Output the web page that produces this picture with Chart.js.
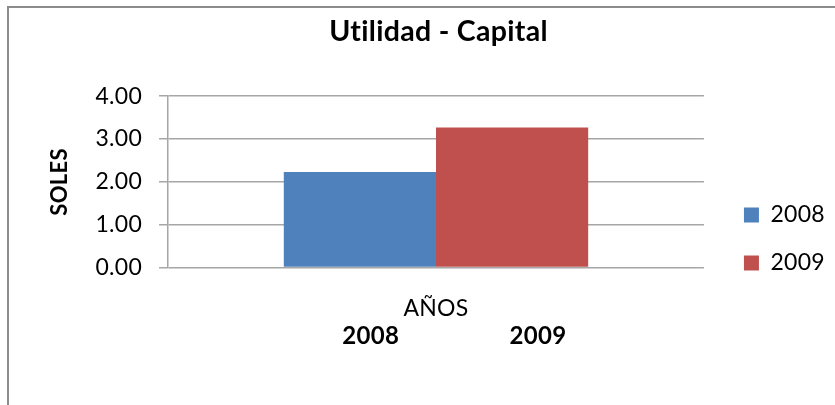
<!DOCTYPE html>
<html>
<head>
<meta charset="utf-8">
<script src="https://cdn.jsdelivr.net/npm/chart.js@4/dist/chart.umd.min.js"></script>
<style>
  html, body { margin: 0; padding: 0; background: #fff; overflow: hidden; }
  #wrap { position: absolute; left: 0; top: 0; width: 835px; height: 405px; }
  #frame { position: absolute; left: 7px; top: 6px; width: 900px; height: 500px;
           border-left: 2px solid #8c8c8c; border-top: 2px solid #8c8c8c; }
  canvas { position: absolute; left: 0; top: 0; }
</style>
</head>
<body>
<div id="wrap">
  <div id="frame"></div>
  <canvas id="chart" width="835" height="405"></canvas>
</div>
<script>
// ---- DATA ----
const categories = ['AÑOS'];
const seriesNames = ['2008', '2009'];
const values2008 = [2.23];
const values2009 = [3.27];
const yTicks = [0, 1, 2, 3, 4];
const chartTitle = 'Utilidad - Capital';
const yTitle = 'SOLES';
const xTitle = '      2008                  2009';

const FONT = 'Lato, "Open Sans", sans-serif';

// no ligatures (Lato joins "ti"), like the original font
const spacing = {
  id: 'spacing',
  beforeLayout: c => { c.ctx.letterSpacing = '0.3px'; },
  beforeDraw: c => { c.ctx.letterSpacing = '0.3px'; }
};

const ctx = document.getElementById('chart');
new Chart(ctx, {
  type: 'bar',
  data: {
    labels: categories,
    datasets: [
      { label: seriesNames[0], data: values2008, backgroundColor: '#4f81bd' },
      { label: seriesNames[1], data: values2009, backgroundColor: '#c0504d' }
    ]
  },
  options: {
    responsive: false,
    animation: false,
    layout: { padding: { left: 42, right: 0, top: 8, bottom: 54 } },
    datasets: { bar: { barPercentage: 1, categoryPercentage: 0.568, borderWidth: 0 } },
    plugins: {
      title: {
        display: true, text: chartTitle, color: '#000',
        font: { family: FONT, size: 28.5, weight: 'bold' },
        padding: { top: 7, bottom: 47 }
      },
      legend: {
        position: 'right',
        title: { display: true, text: ' ', font: { size: 10 }, padding: { top: 107, bottom: 0 } },
        labels: {
          color: '#000', boxWidth: 15, boxHeight: 15, padding: 25,
          font: { family: FONT, size: 23 }
        }
      },
      tooltip: { enabled: false }
    },
    scales: {
      x: {
        grid: { display: false },
        border: { display: false },
        ticks: { color: '#000', font: { family: FONT, size: 23 }, padding: 19 },
        title: {
          display: true, text: xTitle, color: '#000',
          font: { family: FONT, size: 24, weight: 'bold' }, padding: { top: -19, bottom: 0 }
        }
      },
      y: {
        min: yTicks[0], max: yTicks[yTicks.length - 1],
        afterBuildTicks: axis => { axis.ticks = yTicks.map(v => ({ value: v })); },
        grid: { color: '#a6a6a6', lineWidth: 1.5, tickLength: 9 },
        border: { color: '#a6a6a6', width: 1.5 },
        ticks: {
          color: '#000', font: { family: FONT, size: 23 }, padding: 17,
          callback: v => v.toFixed(2)
        },
        title: {
          display: true, text: yTitle, color: '#000',
          font: { family: FONT, size: 22, weight: 'bold' }, padding: { top: 5, bottom: 5 }
        }
      },
      // empty spacer between plot and legend
      gap: {
        type: 'linear', position: 'right', display: true,
        grid: { display: false }, border: { display: false },
        ticks: { display: false },
        afterFit: s => { s.width = 15; }
      }
    }
  },
  plugins: [spacing]
});
</script>
</body>
</html>
